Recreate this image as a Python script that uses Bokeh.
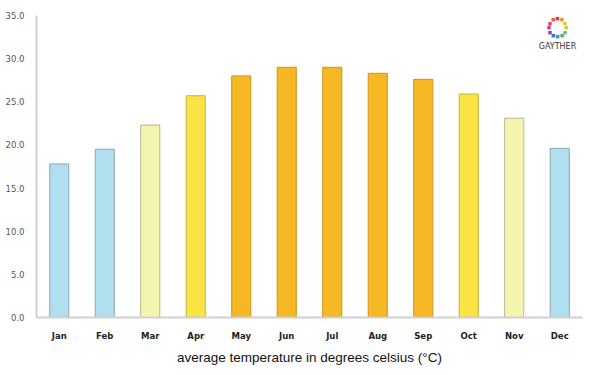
import math
from bokeh.plotting import figure
from bokeh.models import ColumnDataSource, FactorRange, Range1d, Label, SingleIntervalTicker, NumeralTickFormatter
from bokeh.embed import file_html
from bokeh.resources import INLINE

months = ["Jan", "Feb", "Mar", "Apr", "May", "Jun", "Jul", "Aug", "Sep", "Oct", "Nov", "Dec"]
temps = [17.8, 19.5, 22.3, 25.7, 28.0, 29.0, 29.0, 28.3, 27.6, 25.9, 23.1, 19.6]
fills = ["#b0dff0", "#b0dff0", "#f3f4ae", "#f9e345", "#f5b824", "#f5b824", "#f5b824",
         "#f5b824", "#f5b824", "#f9e345", "#f3f4ae", "#b0dff0"]
outlines = ["#8fa6b3", "#8fa6b3", "#b5b493", "#c9b23a", "#cf9417", "#cf9417", "#cf9417",
            "#cf9417", "#cf9417", "#c9b23a", "#b5b493", "#8fa6b3"]

src = ColumnDataSource(dict(m=months, t=temps, f=fills, o=outlines))

p = figure(frame_width=546, frame_height=302, x_range=FactorRange(*months, range_padding=0),
           y_range=Range1d(0, 35), output_backend="svg", toolbar_location=None,
           min_border_left=36, min_border_right=2, min_border_top=15, min_border_bottom=42)
p.outline_line_color = None
p.xgrid.grid_line_color = None
p.ygrid.grid_line_color = None

p.vbar(x="m", top="t", width=0.42, source=src, fill_color="f", line_color="o", line_width=1)

p.yaxis.ticker = SingleIntervalTicker(interval=5)
p.yaxis.formatter = NumeralTickFormatter(format="0.0")
p.yaxis.axis_line_color = "#d0d0d0"
p.yaxis.axis_line_width = 2
p.yaxis.major_tick_line_color = None
p.yaxis.minor_tick_line_color = None
p.yaxis.major_label_text_font = "DejaVu Sans"
p.yaxis.major_label_text_font_size = "8.5px"
p.yaxis.major_label_text_color = "#555555"
p.yaxis.major_label_standoff = 6

p.xaxis.axis_line_color = "#d0d0d0"
p.xaxis.axis_line_width = 2
p.xaxis.major_tick_line_color = None
p.xaxis.minor_tick_line_color = None
p.xaxis.major_label_text_font = "DejaVu Sans"
p.xaxis.major_label_text_font_size = "8.5px"
p.xaxis.major_label_text_font_style = "bold"
p.xaxis.major_label_text_color = "#222222"
p.xaxis.major_label_standoff = 7
p.xaxis.axis_label = "average temperature in degrees celsius (°C)"
p.xaxis.axis_label_text_font = "Liberation Sans"
p.xaxis.axis_label_text_font_size = "13.5px"
p.xaxis.axis_label_text_font_style = "normal"
p.xaxis.axis_label_text_color = "#111111"
p.xaxis.axis_label_standoff = 6

# logo (decoration)
ring_colors = ["#e8352d", "#f08a24", "#f6c51e", "#b5d334", "#6cbf3f", "#2bb3a6",
               "#2a9fd1", "#3a6fc1", "#8e44ad", "#c43c9a", "#e5407a", "#ee5a3a"]
cx, cy = 11.45, 33.6
for i, c in enumerate(ring_colors):
    a = math.pi / 2 - i * 2 * math.pi / len(ring_colors)
    p.add_layout(Label(x=cx + 0.19 * math.cos(a), y=cy + 1.05 * math.sin(a), text="■",
                       text_color=c, text_font_size="7px", text_align="center",
                       text_baseline="middle"))
p.add_layout(Label(x=cx, y=31.4, text="GAYTHER", text_color="#333333",
                   text_font="DejaVu Sans", text_font_size="8px", text_align="center",
                   text_baseline="middle"))

open("out.html", "w").write(file_html(p, INLINE))
